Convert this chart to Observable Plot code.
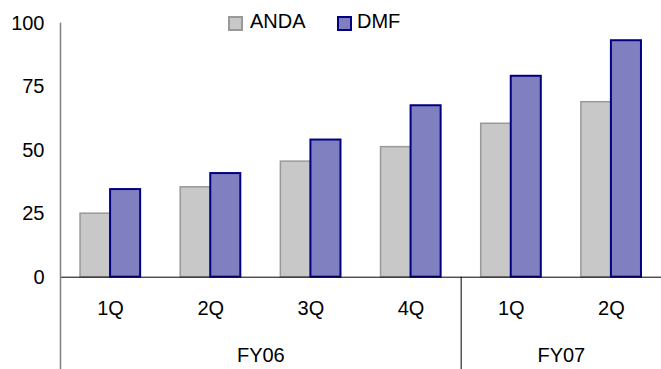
<!DOCTYPE html>
<html>
<head>
<meta charset="utf-8">
<script src="https://cdn.jsdelivr.net/npm/d3@7"></script>
<script src="https://cdn.jsdelivr.net/npm/@observablehq/plot@0.6"></script>
<style>
  body { margin: 0; background: #fff; }
  #wrap { position: relative; width: 661px; height: 369px; font-family: "Liberation Sans", Arial, sans-serif; }
  #legend { position: absolute; left: 0; top: 0; width: 661px; height: 40px; pointer-events: none; }
  .sw { position: absolute; top: 16px; width: 11px; height: 11px; border-width: 2px; border-style: solid; }
  .lt { position: absolute; top: 10px; font-size: 20px; line-height: 22px; color: #000; }
</style>
</head>
<body>
<div id="wrap">
  <div id="chart"></div>
  <div id="legend"></div>
</div>
<script>
// ---- data ----
const quarters = ["1Q", "2Q", "3Q", "4Q", "1Q", "2Q"];
const yearLabels = ["FY06", "FY07"];
const quartersPerYear = [4, 2];
const andaValues = [25, 35.4, 45.5, 51.2, 60.4, 68.9];
const dmfValues = [34.5, 40.8, 54, 67.5, 79.1, 93.1];
const seriesNames = ["ANDA", "DMF"];
const yTicks = [0, 25, 50, 75, 100];

// ---- styling / layout ----
const W = 661, H = 369;
const font = "Liberation Sans, Arial, sans-serif";
const colors = {
  ANDA: {fill: "#c8c8c8", stroke: "#999999", sw: 1.5},
  DMF: {fill: "#8080c0", stroke: "#000080", sw: 2}
};
const barW = 0.3; // in quarter units

const bars = [];
quarters.forEach((q, i) => {
  bars.push({series: "ANDA", i, value: andaValues[i]});
  bars.push({series: "DMF", i, value: dmfValues[i]});
});
const qLabels = quarters.map((q, i) => ({q, i}));
const ends = d3.cumsum(quartersPerYear);
const years = yearLabels.map((y, k) => ({y, start: ends[k] - quartersPerYear[k], end: ends[k]}));
const nQ = quarters.length;

const yZero = 276.7, yTop = 22.7;
const yBottomVal = -(H - yZero) / ((yZero - yTop) / 100);

const chart = Plot.plot({
  width: W,
  height: H,
  marginLeft: 60,
  marginRight: 0,
  marginTop: yTop,
  marginBottom: 0,
  style: {fontFamily: font, fontSize: "20px", color: "#000", background: "transparent", overflow: "visible"},
  x: {type: "linear", domain: [0, nQ], range: [60, W], axis: null},
  y: {domain: [0, 100], range: [yZero, yTop], ticks: yTicks, tickSize: 0, tickPadding: 16, label: null},
  marks: [
    Plot.rect(bars, {
      x1: d => d.i + 0.5 - (d.series === "ANDA" ? barW : 0),
      x2: d => d.i + 0.5 + (d.series === "DMF" ? barW : 0),
      y1: () => 0,
      y2: "value",
      fill: d => colors[d.series].fill,
      stroke: d => colors[d.series].stroke,
      strokeWidth: d => colors[d.series].sw,
      inset: 0
    }),
    Plot.ruleY([0], {stroke: "#000", strokeWidth: 1}),
    Plot.ruleX([0], {stroke: "#808080", strokeWidth: 1.5}),
    Plot.ruleX(ends.slice(0, -1), {x: d => d, y1: () => 0, y2: () => yBottomVal, stroke: "#000", strokeWidth: 1}),
    Plot.text(qLabels, {x: d => d.i + 0.5, y: () => 0, text: "q", dy: 31, fontSize: 20, fill: "#000"}),
    Plot.text(years, {x: d => (d.start + d.end) / 2, y: () => 0, text: "y", dy: 78, fontSize: 20, fill: "#000"})
  ]
});
document.getElementById("chart").appendChild(chart);

// legend
const legend = document.getElementById("legend");
const legendPos = {ANDA: {sw: 228, tx: 250}, DMF: {sw: 337, tx: 357}};
seriesNames.forEach(s => {
  const sw = document.createElement("div");
  sw.className = "sw";
  sw.style.left = legendPos[s].sw + "px";
  sw.style.background = colors[s].fill;
  sw.style.borderColor = colors[s].stroke;
  legend.appendChild(sw);
  const t = document.createElement("div");
  t.className = "lt";
  t.style.left = legendPos[s].tx + "px";
  t.textContent = s;
  legend.appendChild(t);
});
</script>
</body>
</html>
